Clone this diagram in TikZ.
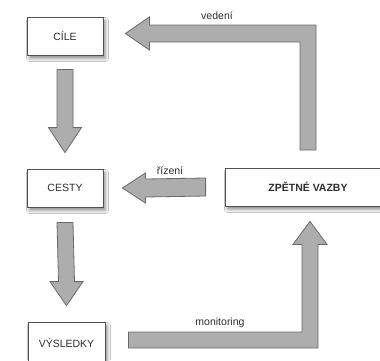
\documentclass[tikz,border=0pt]{standalone}
\usepackage{fontspec}
\setmainfont{Liberation Sans}
\usetikzlibrary{calc,shadows.blur}
\definecolor{arrowgray}{HTML}{ADADAD}
\definecolor{arrowline}{HTML}{6A6A6A}
\definecolor{boxline}{HTML}{505050}
\definecolor{inkgray}{HTML}{2E2E2E}
\tikzset{
  box/.style={draw=boxline, line width=0.8pt, fill=white, minimum height=38pt,
    inner sep=0pt, text=inkgray,
    font=\fontsize{10.5pt}{12pt}\selectfont,
    blur shadow={shadow xshift=2.5pt, shadow yshift=-3.5pt, shadow blur steps=6,
      shadow blur radius=3pt, shadow opacity=45}},
  fatarrow/.style={fill=arrowgray, draw=arrowline, line width=0.8pt, line join=miter},
  tag/.style={text=inkgray, inner sep=0pt, font=\fontsize{10.5pt}{12pt}\selectfont}
}
\begin{document}
\begin{tikzpicture}[x=1pt,y=-1pt]
  \useasboundingbox (0,0) rectangle (380,360);
  \clip (0,0) rectangle (380,360);
  \fill[white] (0,0) rectangle (380,360);

  % the four boxes
  \node[box, minimum width=76pt] (cile) at (65,36) {CÍLE};
  \node[box, minimum width=76pt] (cesty) at (65,188) {CESTY};
  \node[box, minimum width=77pt, minimum height=42pt] (vysledky) at (66.5,343) {VÝSLEDKY};
  \node[box, minimum width=166pt, font=\fontsize{10.5pt}{12pt}\bfseries\selectfont]
    (zpet) at (308,187) {ZPĚTNÉ VAZBY};

  % straight arrows down the left column
  \draw[fatarrow] ($(cile.south)+(-8,14)$) -- ($(cesty.north)+(-8,-41)$)
    -- ($(cesty.north)+(-16.5,-41)$) -- ($(cesty.north)+(0,-16)$)
    -- ($(cesty.north)+(16.5,-41)$) -- ($(cesty.north)+(8,-41)$)
    -- ($(cile.south)+(8,14)$) -- cycle;
  \draw[fatarrow] ($(cesty.south)+(-8,15)$) -- ($(vysledky.north)+(-8,-40)$)
    -- ($(vysledky.north)+(-16.5,-40)$) -- ($(vysledky.north)+(0,-16)$)
    -- ($(vysledky.north)+(16.5,-40)$) -- ($(vysledky.north)+(8,-40)$)
    -- ($(cesty.south)+(8,15)$) -- cycle;

  % feedback -> goals (vedení)
  \coordinate (vtip) at ($(cile.east)+(22,-2.5)$);
  \draw[fatarrow] (300,150) -- (300,42) -- ($(vtip)+(24,8.5)$) -- ($(vtip)+(24,16.5)$)
    -- (vtip) -- ($(vtip)+(24,-16.5)$) -- ($(vtip)+(24,-8.5)$)
    -- (316,25) -- (316,150) -- cycle;
  \node[tag] (lvedeni) at (217,16) {vedení};

  % feedback -> ways (řízení)
  \coordinate (rtip) at ($(cesty.east)+(19,0)$);
  \draw[fatarrow] ($(zpet.west)+(-19,-9)$) -- ($(rtip)+(23,-9)$) -- ($(rtip)+(23,-15)$)
    -- (rtip) -- ($(rtip)+(23,15)$) -- ($(rtip)+(23,9)$)
    -- ($(zpet.west)+(-19,9)$) -- cycle;
  \node[tag] (lrizeni) at (170,171) {řízení};

  % results -> feedback (monitoring)
  \coordinate (mtip) at ($(zpet.south)+(2,15)$);
  \draw[fatarrow] ($(vysledky.east)+(23,-11)$) -- (302,332) -- ($(mtip)+(-8,23)$)
    -- ($(mtip)+(-17,23)$) -- (mtip) -- ($(mtip)+(17,23)$) -- ($(mtip)+(8,23)$)
    -- (318,348) -- ($(vysledky.east)+(23,5)$) -- cycle;
  \node[tag] (lmonitoring) at (220,323) {monitoring};
\end{tikzpicture}
\end{document}
